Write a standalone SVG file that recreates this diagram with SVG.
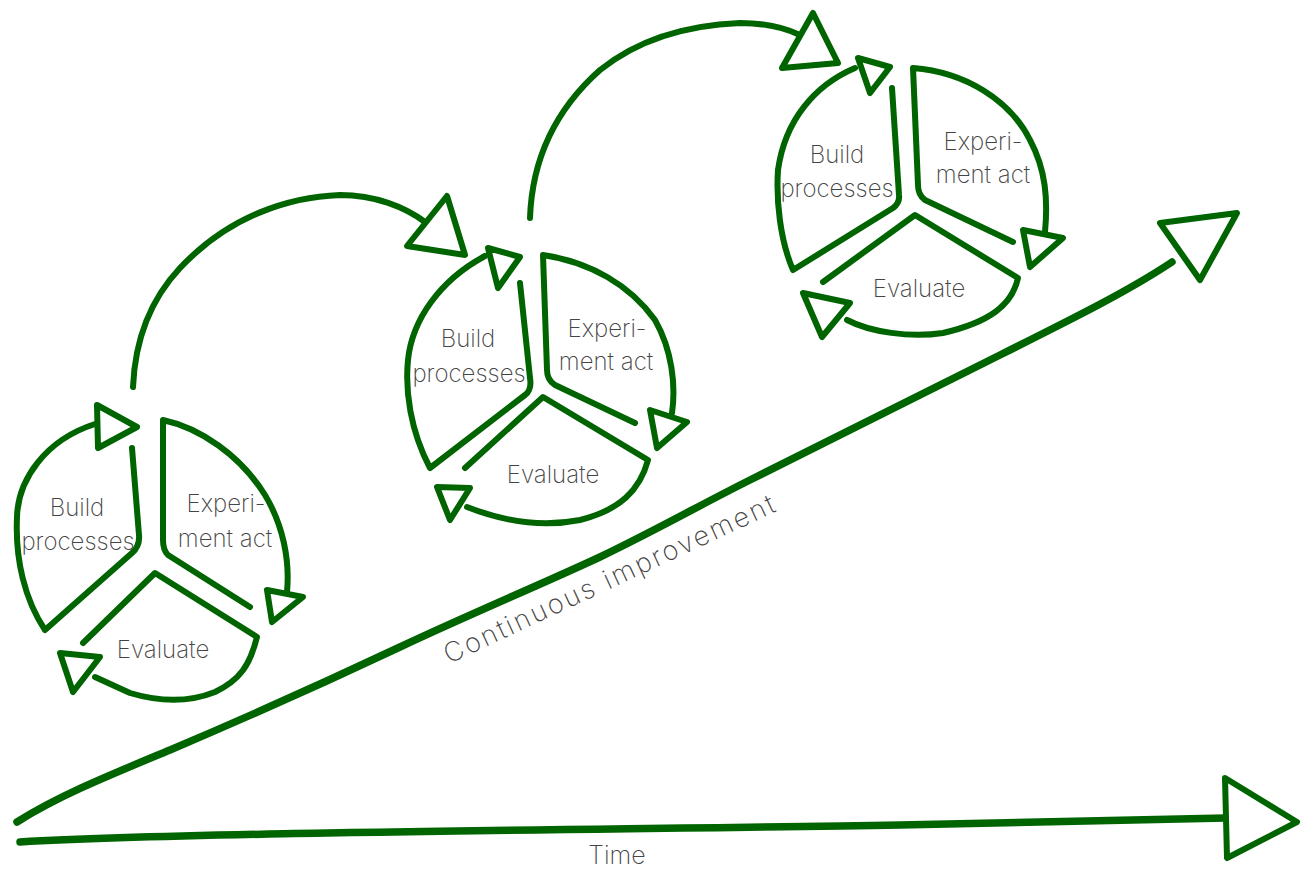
<svg xmlns="http://www.w3.org/2000/svg" width="1311" height="870" viewBox="0 0 1311 870">
<style>
.s{fill:none;stroke:#006400;stroke-width:6;stroke-linecap:round;stroke-linejoin:round}
.b{stroke-width:7.5}
.h{fill:#fff;stroke:#006400;stroke-width:6;stroke-linejoin:round}
.t{font-family:Inter,Lato,"Open Sans","Liberation Sans",sans-serif;font-weight:200;font-size:24px;fill:#444;text-anchor:middle}
.c{font-size:27px;text-anchor:start}
.m{font-size:25px}
</style>
<rect width="1311" height="870" fill="#fff"/>
<g id="connectors">
<path class="s" d="M133,387 C135,340 150,300 180,268 C230,215 290,197 340,195 C375,195 405,207 425,222"/>
<polygon class="h" points="447,196 465,255 407,246"/>
<path class="s" d="M530,218 C532,160 555,110 600,70 C640,38 690,25 740,23 C765,23 785,28 800,35"/>
<polygon class="h" points="813,13 838,63 782,68"/>
</g>
<g id="cycle1">
<path class="s" d="M132,448 L139,535 Q140,546 132,553 L45,630 C25,600 15,560 17,517 C18,480 45,440 95,424"/>
<polygon class="h" points="97,405 137,427 98,448"/>
<path class="s" d="M250,607 L168,555 Q163,550 163,540 L163,420 C200,428 240,455 265,495 C283,525 290,560 287,592"/>
<polygon class="h" points="267,590 303,597 272,622"/>
<path class="s" d="M83,643 L155,573 L257,637 C250,665 240,680 215,692 C190,702 160,702 130,693 L95,677"/>
<polygon class="h" points="60,653 100,657 73,692"/>
<text class="t" x="77" y="516">Build</text>
<text class="t" x="78" y="550">processes</text>
<text class="t" x="226" y="512">Experi-</text>
<text class="t" x="225" y="547">ment act</text>
<text class="t" x="163" y="658">Evaluate</text>
</g>
<g id="cycle2">
<path class="s" d="M520,283 L530,378 Q532,390 525,395 L430,468 C410,430 405,390 408,360 C412,320 440,280 485,256"/>
<polygon class="h" points="488,248 520,257 498,288"/>
<path class="s" d="M635,423 L555,385 Q547,380 547,370 L543,255 C590,262 630,285 655,320 C672,350 676,385 672,413"/>
<polygon class="h" points="650,410 687,422 657,448"/>
<path class="s" d="M465,468 L543,397 L648,460 C640,490 620,510 580,520 C540,528 500,520 467,507"/>
<polygon class="h" points="437,487 470,488 450,520"/>
<text class="t" x="468" y="347">Build</text>
<text class="t" x="469" y="382">processes</text>
<text class="t" x="607" y="337">Experi-</text>
<text class="t" x="606" y="370">ment act</text>
<text class="t" x="553" y="483">Evaluate</text>
</g>
<g id="cycle3">
<path class="s" d="M892,88 L899,195 Q900,203 893,208 L793,270 C780,240 776,200 778,170 C785,120 815,85 855,68"/>
<polygon class="h" points="858,58 890,67 870,93"/>
<path class="s" d="M1013,242 L925,200 Q918,195 918,185 L913,68 C965,72 1010,100 1030,140 C1046,170 1048,200 1045,232"/>
<polygon class="h" points="1023,230 1063,238 1030,267"/>
<path class="s" d="M823,282 L915,215 L1018,278 C1012,305 990,322 943,333 C910,338 870,332 847,320"/>
<polygon class="h" points="803,293 850,303 822,337"/>
<text class="t" x="837" y="163">Build</text>
<text class="t" x="837" y="197">processes</text>
<text class="t" x="983" y="150">Experi-</text>
<text class="t" x="983" y="183">ment act</text>
<text class="t" x="919" y="297">Evaluate</text>
</g>
<g id="improvement">
<path class="s b" d="M17,822 C60,795 110,775 170,750 C250,716 330,680 400,647 C470,614 540,585 600,557 C660,528 700,505 750,480 C850,430 950,380 1000,355 C1080,315 1130,290 1172,262"/>
<polygon class="h" points="1160,223 1237,213 1200,280"/>
<text class="t c" x="0" y="0" textLength="362" lengthAdjust="spacing" transform="translate(449,664) rotate(-25)">Continuous improvement</text>
</g>
<g id="time">
<path class="s b" d="M20,842 C200,832 600,830 900,825 C1050,822 1150,820 1226,818"/>
<polygon class="h" points="1225,778 1297,822 1227,858"/>
<text class="t m" x="617" y="864">Time</text>
</g>
</svg>
